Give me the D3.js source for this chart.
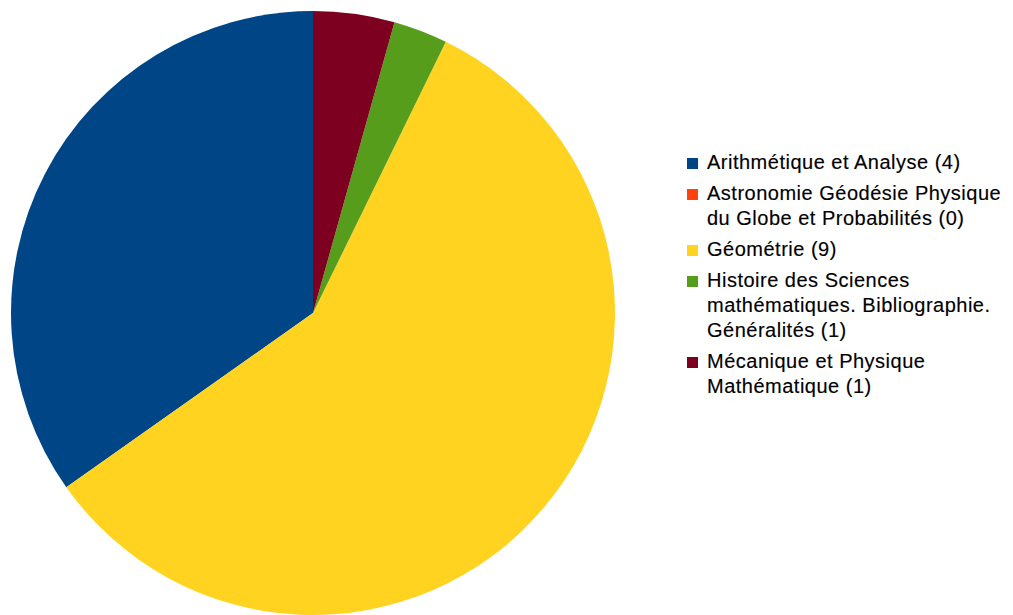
<!DOCTYPE html>
<html>
<head>
<meta charset="utf-8">
<script src="https://cdn.jsdelivr.net/npm/d3@7"></script>
<style>
  body { margin: 0; background: #fff; }
  svg { display: block; font-family: 'Liberation Sans', Arial, sans-serif; }
</style>
</head>
<body>
<div id="plot"></div>
<script>
const width = 1013;
const height = 615;

// data
const categories = [
    'Arithmétique et Analyse (4)',
    'Astronomie Géodésie Physique du Globe et Probabilités (0)',
    'Géométrie (9)',
    'Histoire des Sciences mathématiques. Bibliographie. Généralités (1)',
    'Mécanique et Physique Mathématique (1)'
];
const legendLines = [
    ['Arithmétique et Analyse (4)'],
    ['Astronomie Géodésie Physique', 'du Globe et Probabilités (0)'],
    ['Géométrie (9)'],
    ['Histoire des Sciences', 'mathématiques. Bibliographie.', 'Généralités (1)'],
    ['Mécanique et Physique', 'Mathématique (1)']
];
const values = [24, 0, 40, 2, 3];
const colors = ['#004586', '#ff420e', '#ffd320', '#579d1c', '#7e0021'];

const center = {x: 313, y: 313};
const radius = 302;

const data = categories.map((c, i) => ({name: c, value: values[i], lines: legendLines[i]}));

const svg = d3.select('#plot')
    .append('svg')
    .attr('width', width)
    .attr('height', height);

const color = d3.scaleOrdinal().domain(categories).range(colors);

// slices go counter-clockwise from 12 o'clock
const pie = d3.pie()
    .value(d => d.value)
    .sort(null)
    .startAngle(0)
    .endAngle(-2 * Math.PI);

const arc = d3.arc()
    .innerRadius(0)
    .outerRadius(radius);

const plotPie = svg.append('g')
    .attr('transform', `translate(${center.x}, ${center.y})`);

plotPie.selectAll('path')
    .data(pie(data).filter(d => d.value > 0))
    .enter()
    .append('path')
    .attr('d', arc)
    .style('fill', d => color(d.data.name));

// legend
const legend = svg.append('g')
    .attr('transform', 'translate(687, 169)');

const lineGap = 25;
const entryGap = 31;
let y = 0;

data.forEach(d => {
    const item = legend.append('g')
        .attr('transform', `translate(0, ${y})`);

    item.append('rect')
        .attr('x', 0)
        .attr('y', -11)
        .attr('width', 11)
        .attr('height', 11)
        .style('fill', color(d.name));

    item.append('text')
        .attr('x', 20)
        .style('font-size', '20px')
        .style('letter-spacing', '0.5px')
        .style('fill', '#000')
        .style('stroke', '#000')
        .style('stroke-width', '0.15px')
        .selectAll('tspan')
        .data(d.lines)
        .enter()
        .append('tspan')
        .attr('x', 20)
        .attr('y', (l, i) => i * lineGap)
        .text(l => l);

    y += (d.lines.length - 1) * lineGap + entryGap;
});
</script>
</body>
</html>
